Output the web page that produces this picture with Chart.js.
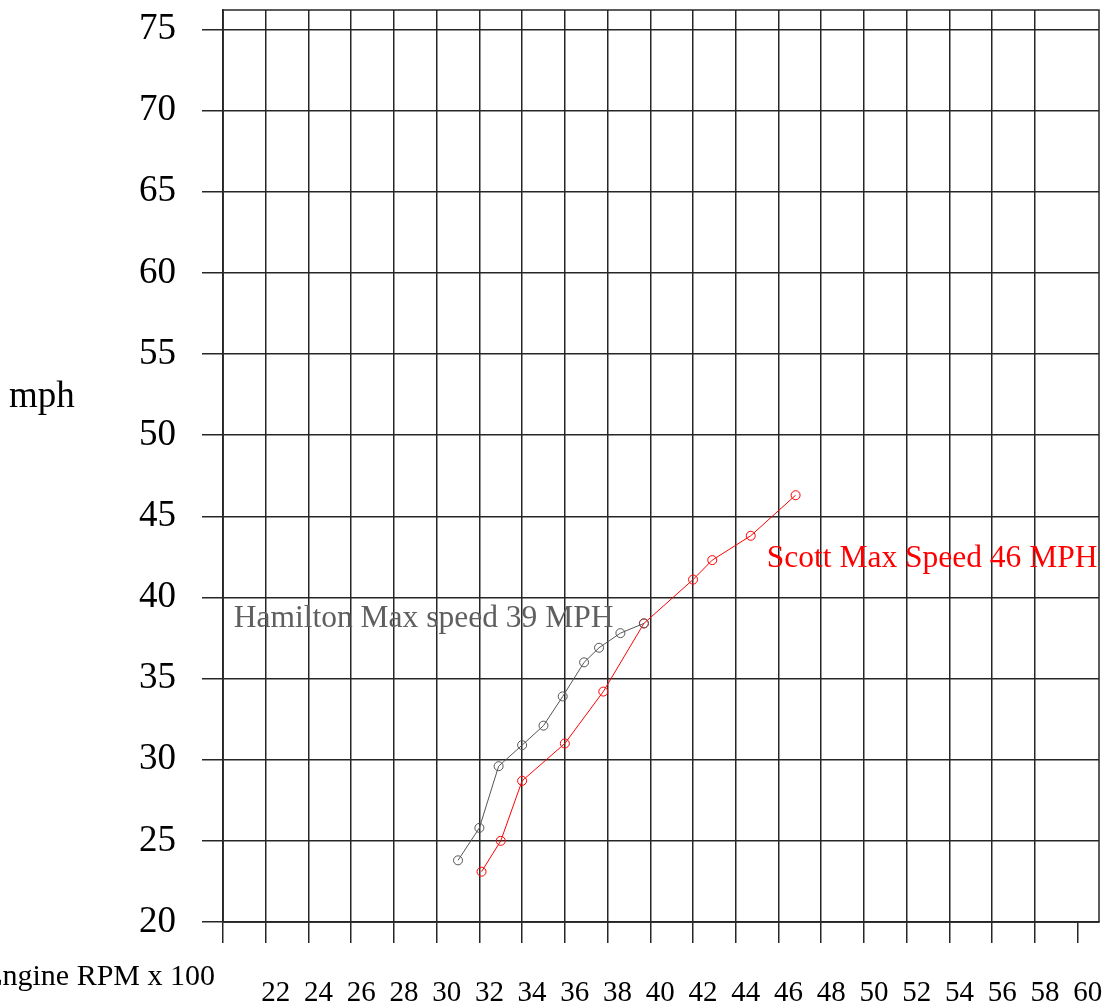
<!DOCTYPE html>
<html>
<head>
<meta charset="utf-8">
<title>Engine RPM vs mph</title>
<script src="https://cdn.jsdelivr.net/npm/chart.js@4.4.0/dist/chart.umd.min.js"></script>
<style>
  html, body { margin: 0; padding: 0; background: #fff; }
  #grafico { display: block; }
</style>
</head>
<body>
<canvas id="grafico" width="1109" height="1005"></canvas>
<script>
// Hamilton (grey)
const hamiltonRpm = [31.0, 32.0, 32.9, 34.0, 35.0, 35.9, 36.9, 37.6, 38.6, 39.7];
const hamiltonMph = [23.8, 25.8, 29.6, 30.9, 32.1, 33.9, 36.0, 36.9, 37.8, 38.4];

// Scott (red)
const scottRpm = [32.1, 33.0, 34.0, 36.0, 37.8, 39.7, 42.0, 42.9, 44.7, 46.8];
const scottMph = [23.1, 25.0, 28.7, 31.0, 34.2, 38.4, 41.1, 42.3, 43.8, 46.3];

// axis ticks
const rpmTicks = [20, 22, 24, 26, 28, 30, 32, 34, 36, 38, 40, 42, 44, 46, 48, 50, 52, 54, 56, 58, 60];
const mphTicks = [20, 25, 30, 35, 40, 45, 50, 55, 60, 65, 70, 75];

const gridColor = '#262626';
const serif = '"Liberation Serif", "Times New Roman", serif';

function puntos(xs, ys) {
  return xs.map(function(x, i) { return { x: x, y: ys[i] }; });
}

// frame, axis titles and the two notes
const marco = {
  id: 'marco',
  afterDraw: function(chart) {
    const ctx = chart.ctx;
    const a = chart.chartArea;
    const sx = chart.scales.x;
    const sy = chart.scales.y;
    ctx.save();
    ctx.strokeStyle = gridColor;
    ctx.lineWidth = 1.5;
    ctx.strokeRect(a.left, a.top, a.right - a.left, a.bottom - a.top);

    ctx.fillStyle = '#000';
    ctx.textBaseline = 'alphabetic';
    ctx.textAlign = 'left';
    ctx.font = '37px ' + serif;
    ctx.fillText('mph', 9, 407);

    ctx.font = '30px ' + serif;
    ctx.textAlign = 'right';
    ctx.fillText('Engine RPM x 100', a.left - 8, 985);

    ctx.textAlign = 'left';
    ctx.font = '31.5px ' + serif;
    ctx.fillStyle = '#5f5f5f';
    ctx.fillText('Hamilton Max speed 39 MPH', sx.getPixelForValue(20.5), sy.getPixelForValue(38.15));
    ctx.fillStyle = '#ff0000';
    ctx.fillText('Scott Max Speed 46 MPH', sx.getPixelForValue(45.45), sy.getPixelForValue(41.85));
    ctx.restore();
  }
};

new Chart(document.getElementById('grafico'), {
  type: 'line',
  data: {
    datasets: [{
      label: 'Hamilton',
      data: puntos(hamiltonRpm, hamiltonMph),
      borderColor: '#555555',
      borderWidth: 1,
      pointRadius: 4.5,
      pointBorderColor: '#555555',
      pointBackgroundColor: 'rgba(0,0,0,0)',
      pointBorderWidth: 1,
      tension: 0
    }, {
      label: 'Scott',
      data: puntos(scottRpm, scottMph),
      borderColor: '#ff0000',
      borderWidth: 1,
      pointRadius: 4.5,
      pointBorderColor: '#ff0000',
      pointBackgroundColor: 'rgba(0,0,0,0)',
      pointBorderWidth: 1,
      tension: 0
    }]
  },
  options: {
    responsive: false,
    animation: false,
    layout: { padding: { top: 10, right: 10, left: 0, bottom: 0 } },
    plugins: {
      legend: { display: false },
      tooltip: { enabled: false }
    },
    scales: {
      x: {
        type: 'linear',
        min: 20,
        max: 61,
        afterBuildTicks: function(s) { s.ticks = rpmTicks.map(function(v) { return { value: v }; }); },
        afterFit: function(s) {
          s.height = 83;
          s.paddingLeft = 0;
          s.paddingRight = 0;
        },
        grid: {
          color: function(c) { return c.tick && c.tick.value === 60 ? 'rgba(0,0,0,0)' : gridColor; },
          tickColor: gridColor,
          lineWidth: 1.5,
          tickLength: 21
        },
        border: { color: gridColor, width: 1.5 },
        ticks: {
          color: '#000',
          font: { family: serif, size: 29 },
          padding: 33,
          labelOffset: 10,
          maxRotation: 0,
          autoSkip: false,
          callback: function(v) { return v === 20 ? '' : v; }
        }
      },
      y: {
        type: 'linear',
        min: 20,
        max: 76.2,
        afterBuildTicks: function(s) { s.ticks = mphTicks.map(function(v) { return { value: v }; }); },
        afterFit: function(s) {
          s.width = 223;
          s.paddingTop = 0;
          s.paddingBottom = 0;
        },
        grid: {
          color: gridColor,
          tickColor: gridColor,
          lineWidth: 1.5,
          tickLength: 21
        },
        border: { color: gridColor, width: 1.5 },
        ticks: {
          color: '#000',
          font: { family: serif, size: 37 },
          padding: 26
        }
      }
    }
  },
  plugins: [marco]
});
</script>
</body>
</html>
